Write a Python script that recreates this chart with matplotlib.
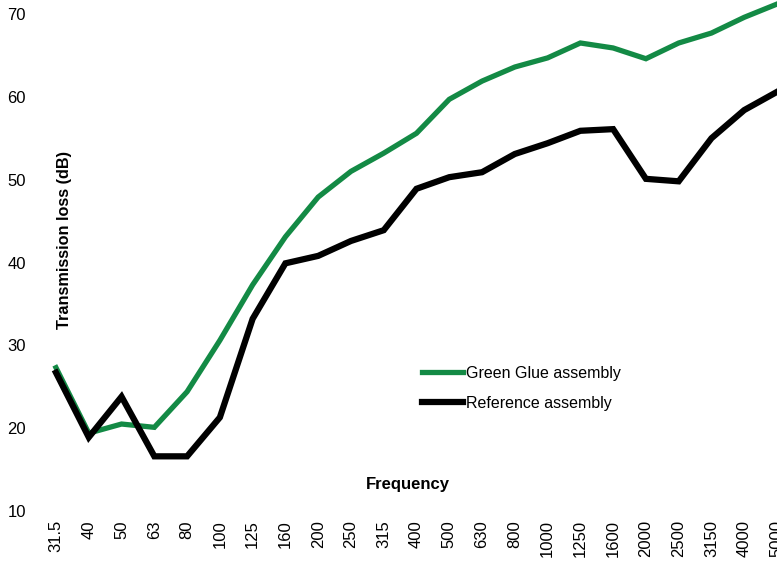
import matplotlib
matplotlib.use("Agg")
import matplotlib.pyplot as plt

frequencies = ["31.5", "40", "50", "63", "80", "100", "125", "160", "200", "250",
               "315", "400", "500", "630", "800", "1000", "1250", "1600", "2000",
               "2500", "3150", "4000", "5000"]
green_glue = [27.3, 19.4, 20.5, 20.1, 24.4, 30.6, 37.3, 43.1, 47.9, 51.0, 53.2,
              55.6, 59.7, 61.9, 63.6, 64.7, 66.5, 65.9, 64.6, 66.5, 67.7, 69.6, 71.2]
reference = [26.7, 18.9, 23.8, 16.6, 16.6, 21.3, 33.2, 39.9, 40.8, 42.6, 43.9,
             48.9, 50.3, 50.9, 53.1, 54.4, 55.9, 56.1, 50.1, 49.8, 55.0, 58.4, 60.6]
yticks = [10, 20, 30, 40, 50, 60, 70]

W, H = 777, 561
fig = plt.figure(figsize=(W / 100, H / 100), dpi=100)
plt.rcParams['font.family'] = ['Liberation Sans', 'DejaVu Sans']

# axes in pixel terms
px_per_cat = (777 - 56) / 22.0
left_px = 40
bottom_px = 511  # y=10
ax = fig.add_axes([left_px / W, (H - bottom_px) / H, (W - left_px) / W, bottom_px / H])
x = list(range(len(frequencies)))
ax.plot(x, green_glue, color="#138a45", lw=3.8, solid_joinstyle='miter',
        label="Green Glue assembly")
ax.plot(x, reference, color="black", lw=4.5, solid_joinstyle='miter',
        label="Reference assembly")

ax.set_xlim(-(56 - left_px) / px_per_cat, 22)
ytop = 70 + 14 / 82.83 * 10
ax.set_ylim(10, ytop)
ax.set_yticks(yticks)
ax.set_yticklabels([str(v) for v in yticks], fontsize=12)
ax.set_xticks(x)
ax.set_xticklabels(frequencies, rotation=90, fontsize=12, va='top')
for s in ax.spines.values():
    s.set_visible(False)
ax.tick_params(axis='y', length=0, pad=10)
ax.tick_params(axis='x', length=0, pad=6.5)

fig.text(65 / W, 1 - 240 / H, "Transmission loss (dB)", rotation=90,
         fontsize=11.7, fontweight='bold', ha='center', va='center')
fig.text(408 / W, 1 - 485 / H, "Frequency", fontsize=12, fontweight='bold',
         ha='center', va='center')

leg = ax.legend(loc='upper left', bbox_to_anchor=(422 / W, 1 - 366 / H),
                bbox_transform=fig.transFigure, frameon=False, fontsize=11.5,
                handlelength=2.57, handletextpad=0.19, labelspacing=0.93,
                borderpad=0, borderaxespad=0)

fig.savefig("out.png", dpi=100)
